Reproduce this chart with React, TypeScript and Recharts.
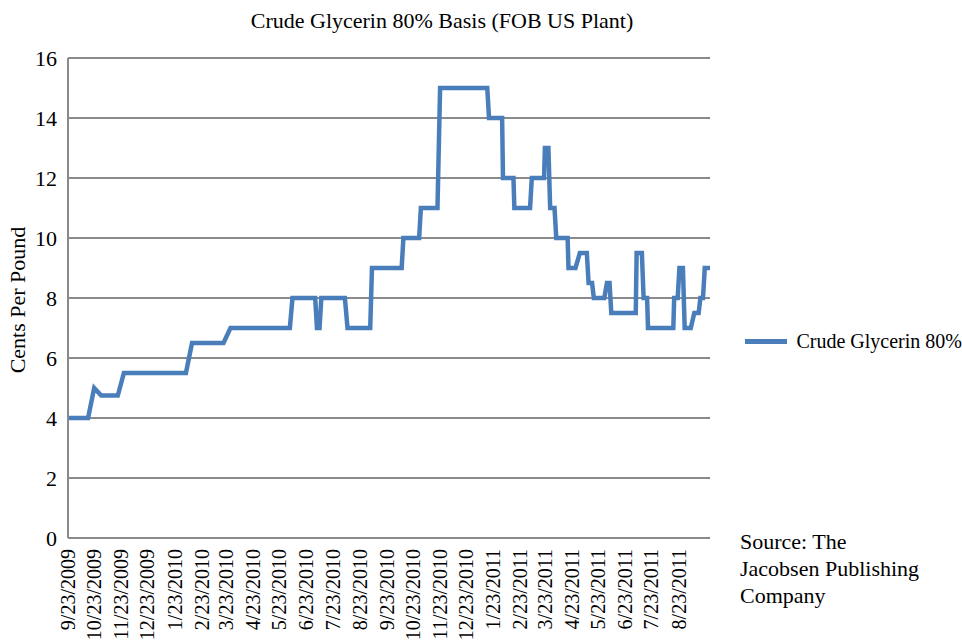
import { CartesianGrid, Legend, Line, LineChart, XAxis, YAxis } from 'recharts';

// dates where the price line turns
const priceDates = [
  '9/23/2009', '10/16/2009', '10/23/2009', '10/31/2009', '11/19/2009', '11/26/2009',
  '2/5/2010', '2/12/2010', '3/20/2010', '3/28/2010', '6/4/2010', '6/7/2010',
  '7/3/2010', '7/5/2010', '7/8/2010', '7/10/2010', '8/6/2010', '8/9/2010',
  '9/4/2010', '9/6/2010', '10/10/2010', '10/12/2010', '10/30/2010', '11/1/2010',
  '11/20/2010', '11/23/2010', '1/16/2011', '1/18/2011', '2/2/2011', '2/3/2011',
  '2/15/2011', '2/16/2011', '3/6/2011', '3/8/2011', '3/22/2011', '3/23/2011',
  '3/27/2011', '3/29/2011', '4/3/2011', '4/5/2011', '4/18/2011', '4/19/2011',
  '4/27/2011', '5/2/2011', '5/10/2011', '5/12/2011', '5/16/2011', '5/18/2011',
  '5/30/2011', '6/2/2011', '6/5/2011', '6/7/2011', '7/5/2011', '7/6/2011',
  '7/12/2011', '7/14/2011', '7/18/2011', '7/19/2011', '8/17/2011', '8/18/2011',
  '8/22/2011', '8/24/2011', '8/28/2011', '8/30/2011', '9/6/2011', '9/10/2011',
  '9/15/2011', '9/17/2011', '9/20/2011', '9/22/2011', '9/28/2011',
];

// cents per pound
const prices = [
  4, 4, 5, 4.75, 4.75, 5.5,
  5.5, 6.5, 6.5, 7, 7, 8,
  8, 7, 7, 8, 8, 7,
  7, 9, 9, 10, 10, 11,
  11, 15, 15, 14, 14, 12,
  12, 11, 11, 12, 12, 13,
  13, 11, 11, 10, 10, 9,
  9, 9.5, 9.5, 8.5, 8.5, 8,
  8, 8.5, 8.5, 7.5, 7.5, 9.5,
  9.5, 8, 8, 7, 7, 8,
  8, 9, 9, 7, 7, 7.5,
  7.5, 8, 8, 9, 9,
];

const tickLabels = [
  '9/23/2009', '10/23/2009', '11/23/2009', '12/23/2009', '1/23/2010', '2/23/2010',
  '3/23/2010', '4/23/2010', '5/23/2010', '6/23/2010', '7/23/2010', '8/23/2010',
  '9/23/2010', '10/23/2010', '11/23/2010', '12/23/2010', '1/23/2011', '2/23/2011',
  '3/23/2011', '4/23/2011', '5/23/2011', '6/23/2011', '7/23/2011', '8/23/2011',
];

const yTicks = [0, 2, 4, 6, 8, 10, 12, 14, 16];

const SERIE = 'Crude Glycerin 80%';
const FONT = '"Liberation Serif", "Times New Roman", serif';
const BLUE = '#4a7ebb';
const GRID = '#8a8a8a';

function toTime(s: string) {
  const [m, d, y] = s.split('/').map(Number);
  return Date.UTC(y, m - 1, d);
}

const data = priceDates.map((d, i) => ({ t: toTime(d), harga: prices[i] }));
const xTicks = tickLabels.map(toTime);
const labelOf = new Map(xTicks.map((t, i) => [t, tickLabels[i]]));

function TickTanggal({ x, y, payload }: { x?: number; y?: number; payload?: { value: number } }) {
  return (
    <g transform={`translate(${x},${(y ?? 0) + 3}) rotate(-90)`}>
      <text textAnchor="end" dominantBaseline="central" fontSize={20} fontFamily={FONT} fill="#000">
        {labelOf.get(payload?.value ?? 0)}
      </text>
    </g>
  );
}

function LegendKustom() {
  return (
    <div
      style={{
        display: 'flex', alignItems: 'center', whiteSpace: 'nowrap',
        fontFamily: FONT, fontSize: 20, color: '#000',
      }}
    >
      <span style={{ display: 'inline-block', width: 51, height: 5, background: BLUE, marginRight: 9 }} />
      {SERIE}
    </div>
  );
}

export default function App() {
  return (
    <div style={{ position: 'absolute', left: 0, top: 0, width: 962, height: 641, background: '#fff' }}>
      <div
        style={{
          position: 'absolute', left: 0, width: 884, top: 8, textAlign: 'center',
          fontFamily: FONT, fontSize: 22, color: '#000',
        }}
      >
        Crude Glycerin 80% Basis (FOB US Plant)
      </div>
      <div
        style={{
          position: 'absolute', left: 18, top: 300, transform: 'translate(-50%, -50%) rotate(-90deg)',
          whiteSpace: 'nowrap', fontFamily: FONT, fontSize: 22, color: '#000',
        }}
      >
        Cents Per Pound
      </div>
      <div
        style={{
          position: 'absolute', left: 740, top: 528, fontFamily: FONT, fontSize: 22,
          lineHeight: '27px', color: '#000',
        }}
      >
        Source: The
        <br />
        Jacobsen Publishing
        <br />
        Company
      </div>
      <LineChart width={962} height={641} data={data} margin={{ top: 58, right: 252, bottom: 0, left: 0 }}>
        <CartesianGrid vertical={false} stroke={GRID} strokeWidth={2} />
        <XAxis
          dataKey="t"
          type="number"
          scale="time"
          domain={[toTime('9/23/2009'), toTime('9/28/2011')]}
          ticks={xTicks}
          interval={0}
          tick={<TickTanggal />}
          tickLine={false}
          axisLine={{ stroke: GRID, strokeWidth: 2 }}
          height={103}
        />
        <YAxis
          domain={[0, 16]}
          ticks={yTicks}
          width={68}
          tickLine={false}
          tickMargin={5}
          axisLine={{ stroke: GRID, strokeWidth: 2 }}
          tick={{ fontSize: 22, fontFamily: FONT, fill: '#000' }}
        />
        <Legend
          layout="horizontal"
          verticalAlign="middle"
          align="center"
          content={<LegendKustom />}
          wrapperStyle={{ left: 745, top: 330, width: 217 }}
        />
        <Line
          type="linear"
          dataKey="harga"
          name={SERIE}
          stroke={BLUE}
          strokeWidth={4.5}
          dot={false}
          isAnimationActive={false}
        />
      </LineChart>
    </div>
  );
}
